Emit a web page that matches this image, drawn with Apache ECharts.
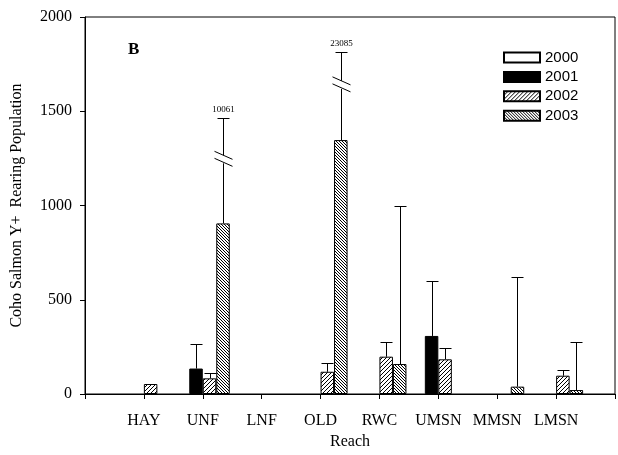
<!DOCTYPE html>
<html><head><meta charset="utf-8">
<script src="https://cdn.jsdelivr.net/npm/echarts@6/dist/echarts.min.js"></script>
<style>html,body{margin:0;padding:0;background:#fff}#c{width:618px;height:455px}</style>
</head><body><div id="c"></div>
<script>
// ---- data ----
const categories = ['', 'HAY', 'UNF', 'LNF', 'OLD', 'RWC', 'UMSN', 'MMSN', 'LMSN', ''];
const years = ['2000', '2001', '2002', '2003'];
const v2000 = [null, null, null, null, null, null, null, null, null, null];
const v2001 = [null, null, 135, null, null, null, 308, null, null, null];
const v2002 = [null, 53, 83, null, 118, 198, 184, null, 97, null];
const v2003 = [null, null, 905, null, 1347, 159, null, 39, 21, null];
const err2000 = [null, null, null, null, null, null, null, null, null, null];
const err2001 = [null, null, 263, null, null, null, 600, null, null, null];
const err2002 = [null, null, 113, null, 163, 277, 242, null, 127, null];
const err2003 = [null, null, 1465, null, 1816, 1000, null, 620, 275, null];
const break2003 = [null, null, 1245, null, 1640, null, null, null, null, null];
const trueTop2003 = [null, null, '10061', null, '23085', null, null, null, null, null];
const yMin = 0, yMax = 2000, yStep = 500;
const panelLabel = 'B';
const xTitle = 'Reach';
const yTitle = 'Coho Salmon Y+  Rearing Population';

// ---- styling helpers ----
const BAR_W = 13.5;
function hatch(n, dir) {
  const c = document.createElement('canvas');
  c.width = n; c.height = n;
  const ctx = c.getContext('2d');
  ctx.fillStyle = '#fff'; ctx.fillRect(0, 0, n, n);
  ctx.fillStyle = '#000';
  for (let i = 0; i < n; i++) {
    if (dir > 0) ctx.fillRect(i, n - 1 - i, 1, 1);
    else ctx.fillRect(i, i, 1, 1);
  }
  return c;
}
const fills = [
  '#ffffff',
  '#000000',
  { image: hatch(4, 1), repeat: 'repeat' },
  { image: hatch(3, -1), repeat: 'repeat' }
];
const values = [v2000, v2001, v2002, v2003];
const errs = [err2000, err2001, err2002, err2003];
const breaks = [null, null, null, break2003];
const tops = [null, null, null, trueTop2003];

function errRender(si) {
  return function (params, api) {
    const ci = api.value(0);
    const base = api.coord([ci, api.value(1)]);
    const top = api.coord([ci, api.value(2)]);
    const x = Math.round(base[0] + (si - 1.5) * BAR_W) + 0.5;
    const y0 = base[1], y1 = Math.round(top[1]) + 0.5;
    const ls = { stroke: '#000', lineWidth: 1 };
    const children = [];
    const brk = api.value(3);
    if (brk !== null && !isNaN(brk)) {
      const yb = api.coord([ci, brk])[1];
      children.push({ type: 'line', shape: { x1: x, y1: y0, x2: x, y2: yb + 4 }, style: ls });
      children.push({ type: 'line', shape: { x1: x, y1: yb - 4, x2: x, y2: y1 }, style: ls });
      children.push({ type: 'line', shape: { x1: x - 9, y1: yb - 8, x2: x + 9, y2: yb }, style: ls });
      children.push({ type: 'line', shape: { x1: x - 9, y1: yb - 1, x2: x + 9, y2: yb + 7 }, style: ls });
    } else {
      children.push({ type: 'line', shape: { x1: x, y1: y0, x2: x, y2: y1 }, style: ls });
    }
    children.push({ type: 'line', shape: { x1: x - 6, y1: y1, x2: x + 6, y2: y1 }, style: ls });
    const lbl = tops[si] ? tops[si][ci] : null;
    if (lbl) {
      children.push({ type: 'text', x: x, y: y1 - 4, style: { text: lbl, fill: '#000', font: '9px "Liberation Serif"', align: 'center', verticalAlign: 'bottom' } });
    }
    return { type: 'group', children: children };
  };
}

const series = [];
years.forEach((yr, si) => {
  series.push({
    name: yr, type: 'bar', data: values[si], barWidth: BAR_W, barGap: '0%',
    itemStyle: { color: fills[si], borderColor: '#000', borderWidth: 1 },
    emphasis: { disabled: true }, animation: false
  });
});
years.forEach((yr, si) => {
  const d = [];
  categories.forEach((c, ci) => {
    if (errs[si][ci] !== null && values[si][ci] !== null) {
      d.push([ci, values[si][ci], errs[si][ci], breaks[si] && breaks[si][ci] !== null ? breaks[si][ci] : NaN]);
    }
  });
  series.push({ name: 'err' + yr, type: 'custom', renderItem: errRender(si), data: d, z: 5, animation: false, silent: true });
});

const chart = echarts.init(document.getElementById('c'), null, { renderer: 'canvas' });
chart.setOption({
  animation: false,
  backgroundColor: '#fff',
  textStyle: { fontFamily: '"Liberation Serif", "Times New Roman", serif', color: '#000' },
  grid: { left: 85, right: -7, top: 17, bottom: 61, show: true, borderColor: '#000', borderWidth: 1, containLabel: false },
  legend: {
    data: years, orient: 'vertical', left: 503, top: 50, icon: 'rect', padding: 0,
    itemWidth: 36, itemHeight: 10, itemGap: 4.4,
    textStyle: { fontFamily: '"Liberation Sans", Arial, sans-serif', fontSize: 15, color: '#000' },
    selectedMode: false
  },
  xAxis: {
    type: 'category', data: categories, boundaryGap: false,
    name: xTitle, nameLocation: 'middle', nameGap: 33,
    nameTextStyle: { fontSize: 16, color: '#000' },
    axisLine: { lineStyle: { color: '#000', width: 1 } },
    axisTick: { show: true, length: 5, lineStyle: { color: '#000' } },
    axisLabel: { fontSize: 16, color: '#000', margin: 19, interval: 0 },
    splitLine: { show: false }
  },
  yAxis: {
    type: 'value', min: yMin, max: yMax, interval: yStep,
    name: yTitle, nameLocation: 'middle', nameGap: 60,
    nameTextStyle: { fontSize: 16, color: '#000' },
    axisLine: { show: true, lineStyle: { color: '#000', width: 1 } },
    axisTick: { show: true, length: 5, lineStyle: { color: '#000' } },
    axisLabel: { fontSize: 16, color: '#000', margin: 13, formatter: v => String(v) },
    splitLine: { show: false }
  },
  graphic: [{ type: 'text', left: 128, top: 41, style: { text: panelLabel, font: 'bold 17px "Liberation Serif"', fill: '#000' } }],
  series: series
});
</script></body></html>
